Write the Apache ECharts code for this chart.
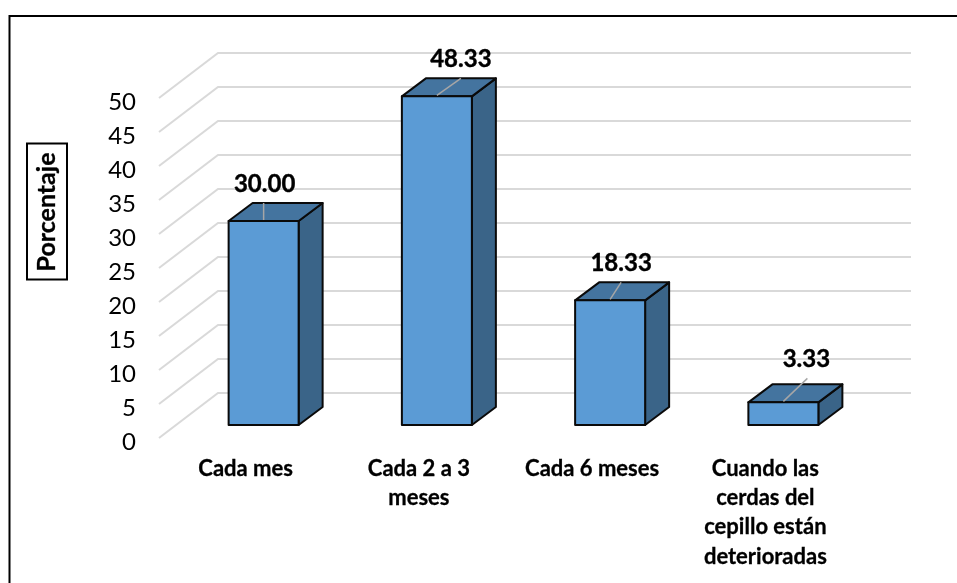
<!DOCTYPE html>
<html>
<head>
<meta charset="utf-8">
<style>html,body{margin:0;padding:0;background:#fff}#chart{width:957px;height:583px}</style>
<script src="https://cdn.jsdelivr.net/npm/echarts@6/dist/echarts.min.js"></script>
</head>
<body>
<div id="chart"></div>
<script>
// Frecuencia de cambio del cepillo dental (porcentaje)
const categories = ['Cada mes', 'Cada 2 a 3\nmeses', 'Cada 6 meses', 'Cuando las\ncerdas del\ncepillo están\ndeterioradas'];
const percentages = [30.00, 48.33, 18.33, 3.33];
const wallTicks = [0, 5, 10, 15, 20, 25, 30, 35, 40, 45, 50];
const axisTitle = 'Porcentaje';

// Proyección oblicua del gráfico 3D, en píxeles
const FRONT = -4;            // del eje de valores al borde frontal del suelo
const WALL = [59, -45];      // del frente del suelo a la pared del fondo
const BAR_PLANE = [18, -13]; // del frente del suelo a la cara frontal de la barra
const BAR_DEPTH = [24, -18]; // profundidad de cada barra
const BAR_RATIO = 70 / 173.25;
// Desplazamiento de cada rótulo y de su línea guía respecto al centro de la cara superior
const labelShift = [[1, -37], [24, -37], [11, -37], [23, -43]];
const leaderEnd = [[0, -18], [24, -18], [11, -18], [24, -24]];

const FONT = 'Lato, "Open Sans", sans-serif';

function renderWall(params, api) {
  const cs = params.coordSys;
  const y = api.coord([0, api.value(0)])[1] + FRONT;
  return {
    type: 'polyline',
    silent: true,
    shape: { points: [[cs.x, y], [cs.x + WALL[0], y + WALL[1]], [cs.x + cs.width + WALL[0], y + WALL[1]]] },
    style: { fill: 'none', stroke: '#D9D9D9', lineWidth: 2 }
  };
}

function renderBar(params, api) {
  const i = api.value(0);
  const v = api.value(1);
  const w = api.size([1, 0])[0] * BAR_RATIO;
  const top = api.coord([i, v]);
  const base = api.coord([i, 0]);
  const x0 = top[0] - w / 2 + BAR_PLANE[0];
  const x1 = x0 + w;
  const yT = top[1] + FRONT + BAR_PLANE[1];
  const yB = base[1] + FRONT + BAR_PLANE[1];
  const dx = BAR_DEPTH[0];
  const dy = BAR_DEPTH[1];
  const cx = (x0 + x1) / 2;
  const edge = { stroke: '#0A0A0A', lineWidth: 2, lineJoin: 'round' };
  const idx = params.dataIndex;
  return {
    type: 'group',
    children: [
      { type: 'polygon', shape: { points: [[x1, yT], [x1 + dx, yT + dy], [x1 + dx, yB + dy], [x1, yB]] },
        style: Object.assign({ fill: '#3A6488' }, edge) },
      { type: 'polygon', shape: { points: [[x0, yT], [x0 + dx, yT + dy], [x1 + dx, yT + dy], [x1, yT]] },
        style: Object.assign({ fill: '#44749F' }, edge) },
      { type: 'rect', shape: { x: x0, y: yT, width: w, height: yB - yT },
        style: Object.assign({ fill: '#5B9BD5' }, edge) },
      { type: 'line', shape: { x1: cx, y1: yT - 1, x2: cx + leaderEnd[idx][0], y2: yT + leaderEnd[idx][1] },
        style: { stroke: '#A6A6A6', lineWidth: 1.5 } },
      { type: 'text', style: {
          x: cx + labelShift[idx][0], y: yT + labelShift[idx][1],
          text: v.toFixed(2), align: 'center', verticalAlign: 'middle',
          font: 'bold 24px ' + FONT, fill: '#000', stroke: '#000', lineWidth: 0.4 } }
    ]
  };
}

const chart = echarts.init(document.getElementById('chart'), null, { renderer: 'canvas' });
chart.setOption({
  animation: false,
  backgroundColor: '#fff',
  grid: { left: 159, top: 102, width: 693, height: 340 },
  xAxis: {
    type: 'category',
    data: categories,
    axisLine: { show: false },
    axisTick: { show: false },
    axisLabel: { interval: 0, margin: 12, fontFamily: FONT, fontWeight: 'bold', fontSize: 22, lineHeight: 29.3, color: '#000', verticalAlign: 'top', textBorderColor: '#000', textBorderWidth: 0.3 }
  },
  yAxis: {
    type: 'value',
    min: 0,
    max: 50,
    interval: 5,
    splitLine: { show: false },
    axisLine: { show: false },
    axisTick: { show: false },
    axisLabel: { margin: 23, fontFamily: FONT, fontSize: 24, color: '#000' }
  },
  graphic: [
    // Marco: solo se ven los bordes superior e izquierdo
    { type: 'rect', silent: true, z: -1,
      shape: { x: 9.5, y: 16, width: 965, height: 590 },
      style: { fill: 'none', stroke: '#000', lineWidth: 2 } },
    { type: 'rect', silent: true,
      shape: { x: 27, y: 143.5, width: 40, height: 136 },
      style: { fill: '#fff', stroke: '#000', lineWidth: 2 } },
    { type: 'text', silent: true, x: 47, y: 212, rotation: Math.PI / 2,
      style: { text: axisTitle, align: 'center', verticalAlign: 'middle', font: 'bold 25px ' + FONT, fill: '#000', stroke: '#000', lineWidth: 0.3 } }
  ],
  series: [
    { type: 'custom', coordinateSystem: 'cartesian2d', clip: false, silent: true, z: 1,
      encode: { y: 0 }, data: wallTicks.map(v => [v]), renderItem: renderWall },
    { type: 'custom', coordinateSystem: 'cartesian2d', clip: false, silent: true, z: 2,
      encode: { x: 0, y: 1 }, data: percentages.map((v, i) => [i, v]), renderItem: renderBar }
  ]
});
</script>
</body>
</html>
